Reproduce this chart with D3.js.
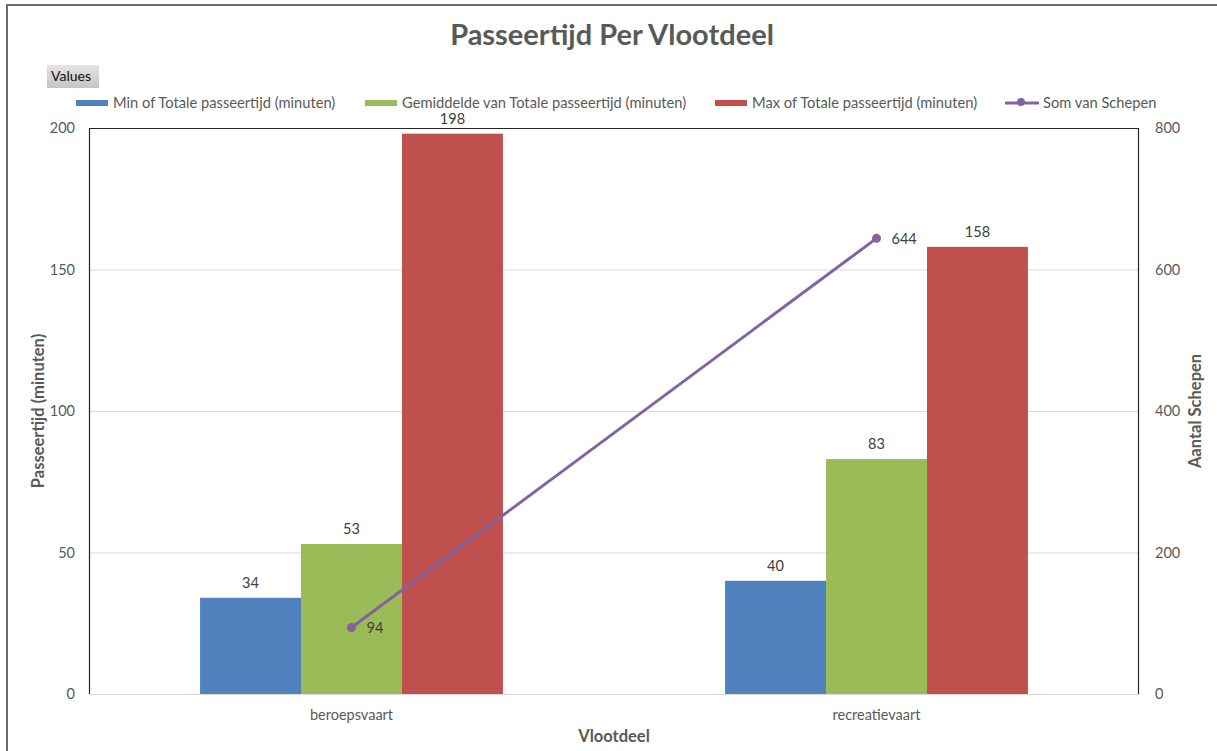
<!DOCTYPE html>
<html>
<head>
<meta charset="utf-8">
<script src="https://cdn.jsdelivr.net/npm/d3@7"></script>
<style>
  body { margin: 0; background: #fff; }
  svg { display: block; font-family: "Lato", "Open Sans", sans-serif; }
</style>
</head>
<body>
<svg id="chart" width="1217" height="751"></svg>
<script>
// Vessel categories and per-category statistics
const categories = ["beroepsvaart", "recreatievaart"];
const minTime = [34, 40];
const avgTime = [53, 83];
const maxTime = [198, 158];
const shipCount = [94, 644];
const leftTicks = [0, 50, 100, 150, 200];
const rightTicks = [0, 200, 400, 600, 800];

const seriesNames = [
  "Min of Totale passeertijd (minuten)",
  "Gemiddelde van Totale passeertijd (minuten)",
  "Max of Totale passeertijd (minuten)"
];
const lineName = "Som van Schepen";
const barColors = ["#4f81bd", "#9bbb59", "#c0504d"];
const lineColor = "#8064a2";
const textColor = "#595959";

const svg = d3.select("#chart");
const W = 1217, H = 751;
const plot = { left: 89, right: 1139, top: 128, bottom: 694 };

// outer chart frame
svg.append("rect")
  .attr("x", 7).attr("y", 5)
  .attr("width", W + 10).attr("height", H + 10)
  .attr("fill", "#fff").attr("stroke", "#6b6b6b").attr("stroke-width", 2);

const x0 = d3.scaleBand().domain(categories)
  .range([plot.left, plot.right]).paddingInner(0).paddingOuter(0);
const x1 = d3.scaleBand().domain(d3.range(3))
  .range([0, x0.bandwidth()]).paddingOuter(1.1).paddingInner(0);
const yL = d3.scaleLinear().domain([0, 200]).range([plot.bottom, plot.top]);
const yR = d3.scaleLinear().domain([0, 800]).range([plot.bottom, plot.top]);

// gridlines
svg.append("g").selectAll("line").data(leftTicks.slice(1, -1)).join("line")
  .attr("x1", plot.left).attr("x2", plot.right)
  .attr("y1", d => yL(d) + 0.5).attr("y2", d => yL(d) + 0.5)
  .attr("stroke", "#d9d9d9").attr("stroke-width", 1);

// bars
const table = categories.map((c, i) => ({ cat: c, vals: [minTime[i], avgTime[i], maxTime[i]] }));
const groups = svg.append("g").selectAll("g").data(table).join("g")
  .attr("transform", d => `translate(${x0(d.cat)},0)`);
groups.selectAll("rect").data(d => d.vals).join("rect")
  .attr("x", (d, j) => x1(j))
  .attr("width", x1.bandwidth())
  .attr("y", d => yL(d))
  .attr("height", d => yL(0) - yL(d))
  .attr("fill", (d, j) => barColors[j]);
groups.selectAll("text").data(d => d.vals).join("text")
  .attr("x", (d, j) => x1(j) + x1.bandwidth() / 2)
  .attr("y", d => yL(d) - 10)
  .attr("text-anchor", "middle")
  .attr("font-size", 14.5).attr("fill", "#404040")
  .text(d => d);

// plot frame: bottom axis light, other sides dark
svg.append("line").attr("x1", plot.left).attr("x2", plot.right)
  .attr("y1", plot.bottom + 0.5).attr("y2", plot.bottom + 0.5)
  .attr("stroke", "#d9d9d9");
svg.append("path")
  .attr("d", `M${plot.left + 0.5},${plot.bottom}V${plot.top + 0.5}H${plot.right - 0.5}V${plot.bottom}`)
  .attr("fill", "none").attr("stroke", "#262626").attr("stroke-width", 1.2);

// left axis ticks
const axL = d3.axisLeft(yL).tickValues(leftTicks).tickSize(0).tickPadding(14);
const gL = svg.append("g").attr("transform", `translate(${plot.left},0)`).call(axL);
gL.select(".domain").remove();
gL.selectAll("text").attr("font-size", 14.5).attr("fill", textColor).attr("font-family", "Lato");

// right axis ticks
const axR = d3.axisRight(yR).tickValues(rightTicks).tickSize(0).tickPadding(16);
const gR = svg.append("g").attr("transform", `translate(${plot.right},0)`).call(axR);
gR.select(".domain").remove();
gR.selectAll("text").attr("font-size", 14.5).attr("fill", textColor).attr("font-family", "Lato");

// category axis
const axB = d3.axisBottom(x0).tickSize(0).tickPadding(16);
const gB = svg.append("g").attr("transform", `translate(0,${plot.bottom})`).call(axB);
gB.select(".domain").remove();
gB.selectAll("text").attr("font-size", 14.5).attr("fill", textColor).attr("font-family", "Lato");

// ship count line
const pts = categories.map((c, i) => ({ x: x0(c) + x0.bandwidth() / 2, v: shipCount[i] }));
svg.append("path")
  .datum(pts)
  .attr("d", d3.line().x(d => d.x).y(d => yR(d.v)))
  .attr("fill", "none").attr("stroke", lineColor).attr("stroke-width", 3);
svg.append("g").selectAll("circle").data(pts).join("circle")
  .attr("cx", d => d.x).attr("cy", d => yR(d.v)).attr("r", 4.5)
  .attr("fill", lineColor);
svg.append("g").selectAll("text").data(pts).join("text")
  .attr("x", d => d.x + 15).attr("y", d => yR(d.v) + 6)
  .attr("font-size", 14.5).attr("fill", "#404040")
  .text(d => d.v);

// title
svg.append("text").attr("x", 612).attr("y", 45)
  .attr("text-anchor", "middle").attr("font-size", 29).attr("font-weight", "bold")
  .attr("fill", textColor).text("Passeertijd Per Vlootdeel");

// "Values" field button
const btnGrad = svg.append("defs").append("linearGradient")
  .attr("id", "btn").attr("x1", 0).attr("y1", 0).attr("x2", 0).attr("y2", 1);
btnGrad.append("stop").attr("offset", 0).attr("stop-color", "#e4e4e4");
btnGrad.append("stop").attr("offset", 1).attr("stop-color", "#c4c4c4");
svg.append("rect").attr("x", 47).attr("y", 65).attr("width", 52).attr("height", 23)
  .attr("fill", "url(#btn)");
svg.append("text").attr("x", 51).attr("y", 81)
  .attr("font-size", 14).attr("fill", "#111").text("Values");

// legend
const legendItems = [
  { name: seriesNames[0], color: barColors[0], sx: 76 },
  { name: seriesNames[1], color: barColors[1], sx: 365 },
  { name: seriesNames[2], color: barColors[2], sx: 715 }
];
const lg = svg.append("g");
lg.selectAll("rect").data(legendItems).join("rect")
  .attr("x", d => d.sx).attr("y", 100).attr("width", 32).attr("height", 6)
  .attr("fill", d => d.color);
lg.selectAll("text").data(legendItems).join("text")
  .attr("x", d => d.sx + 37).attr("y", 108)
  .attr("font-size", 14.7).attr("fill", textColor)
  .text(d => d.name);
lg.append("line").attr("x1", 1005).attr("x2", 1039).attr("y1", 103).attr("y2", 103)
  .attr("stroke", lineColor).attr("stroke-width", 3);
lg.append("circle").attr("cx", 1021).attr("cy", 102).attr("r", 4).attr("fill", lineColor);
lg.append("text").attr("x", 1043).attr("y", 108)
  .attr("font-size", 14.7).attr("fill", textColor).text(lineName);

// axis titles
svg.append("text")
  .attr("transform", `translate(44,${(plot.top + plot.bottom) / 2}) rotate(-90)`)
  .attr("text-anchor", "middle").attr("font-size", 16.5).attr("font-weight", "bold")
  .attr("fill", textColor).text("Passeertijd (minuten)");
svg.append("text")
  .attr("transform", `translate(1201,${(plot.top + plot.bottom) / 2}) rotate(-90)`)
  .attr("text-anchor", "middle").attr("font-size", 16.5).attr("font-weight", "bold")
  .attr("fill", textColor).text("Aantal Schepen");
svg.append("text").attr("x", (plot.left + plot.right) / 2).attr("y", 742)
  .attr("text-anchor", "middle").attr("font-size", 16.5).attr("font-weight", "bold")
  .attr("fill", textColor).text("Vlootdeel");
</script>
</body>
</html>
